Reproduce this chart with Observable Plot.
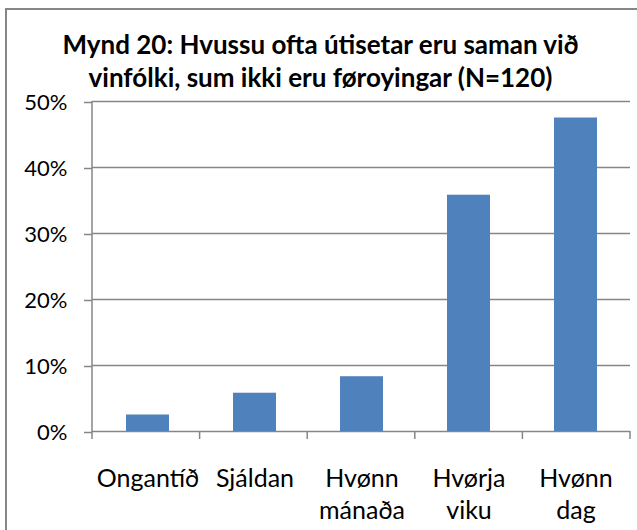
<!DOCTYPE html>
<html>
<head>
<meta charset="utf-8">
<script src="https://cdn.jsdelivr.net/npm/d3@7"></script>
<script src="https://cdn.jsdelivr.net/npm/@observablehq/plot@0.6"></script>
<style>
  html, body { margin: 0; padding: 0; background: #fff; overflow: hidden; }
  #wrap { position: relative; width: 637px; height: 530px; }
  #frame { position: absolute; left: 5px; top: 8px; width: 700px; height: 600px; border: 2px solid #868686; box-sizing: border-box; pointer-events: none; }
  #chart { position: absolute; left: 0; top: 0; }
</style>
</head>
<body>
<div id="wrap"><div id="chart"></div><div id="frame"></div></div>
<script>
const title = "Mynd 20: Hvussu ofta útisetar eru saman við\nvinfólki, sum ikki eru føroyingar (N=120)";
const categories = ["Ongantíð", "Sjáldan", "Hvønn mánaða", "Hvørja viku", "Hvønn dag"];
const categoryLabels = ["Ongantíð", "Sjáldan", "Hvønn\nmánaða", "Hvørja\nviku", "Hvønn\ndag"];
const values = [2.5, 5.8, 8.3, 35.8, 47.5];
const yTicks = [0, 10, 20, 30, 40, 50];

const data = categories.map((c, i) => ({cat: c, value: values[i], label: categoryLabels[i]}));
const gray = "#868686";

function axisLines(index, scales, vals, dims) {
  const g = d3.create("svg:g").attr("stroke", gray).attr("stroke-width", 1.5).attr("fill", "none");
  const x0 = dims.marginLeft, x1 = dims.width - dims.marginRight;
  const yTop = scales.y(50), yBot = scales.y(0);
  g.append("line").attr("x1", x0).attr("x2", x0).attr("y1", yTop).attr("y2", yBot + 0.75);
  const step = (x1 - x0) / categories.length;
  for (let i = 0; i <= categories.length; i++) {
    const xx = x0 + i * step;
    g.append("line").attr("x1", xx).attr("x2", xx).attr("y1", yBot).attr("y2", yBot + 8);
  }
  return g.node();
}

const chart = Plot.plot({
  width: 637,
  height: 530,
  marginLeft: 92,
  marginRight: 7,
  marginTop: 101,
  marginBottom: 99,
  style: {fontFamily: "Lato, sans-serif", fontSize: "22px", color: "#000", background: "transparent"},
  x: {domain: categories, paddingInner: 0.6, paddingOuter: 0.3, axis: null},
  y: {domain: [0, 50], axis: null},
  marks: [
    Plot.gridY(yTicks, {stroke: gray, strokeOpacity: 1, strokeWidth: 1.5}),
    Plot.barY(data, {x: "cat", y: "value", fill: "#4F81BD"}),
    Plot.axisY(yTicks, {tickSize: 8, tickPadding: 17, tickFormat: d => d + "%", stroke: gray, strokeWidth: 1.5, fontSize: 22, fill: "#000", label: null, dy: 1}),
    axisLines,
    Plot.text(data, {x: "cat", text: "label", frameAnchor: "bottom", lineAnchor: "top", dy: 33, lineHeight: 1.28, fontSize: 25, fill: "#000"}),
    Plot.text([title], {frameAnchor: "top", lineAnchor: "top", dx: -41, dy: -72, lineHeight: 1.3, fontSize: 26, fontWeight: "bold", fill: "#000"})
  ]
});
document.getElementById("chart").appendChild(chart);
</script>
</body>
</html>
